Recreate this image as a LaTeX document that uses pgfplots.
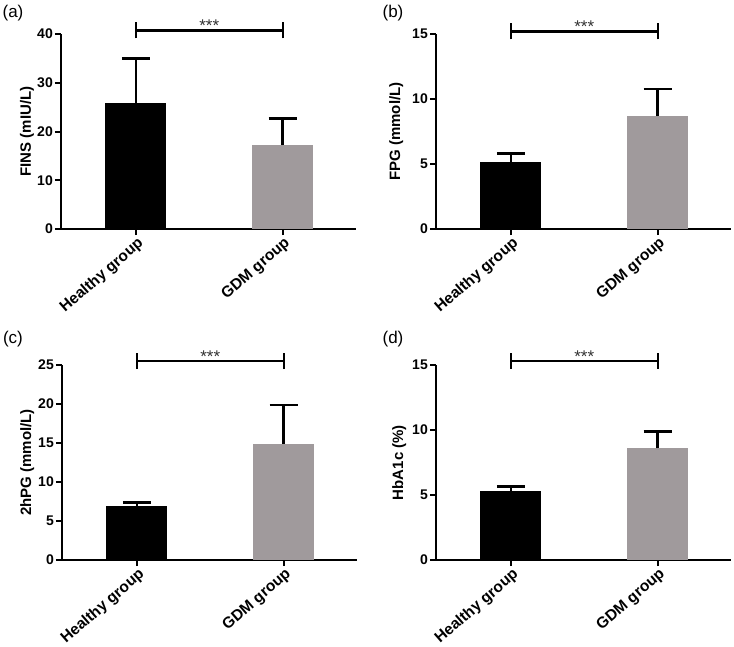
\documentclass[border=0pt]{standalone}
\usepackage{fontspec}
\setmainfont{Liberation Sans}
\usepackage{pgfplots}
\pgfplotsset{compat=1.18}
\definecolor{gdmgray}{RGB}{160,154,156}
\definecolor{stargray}{RGB}{50,50,50}
\tikzset{stars/.style={font=\fontsize{17}{20}\selectfont, text=stargray, anchor=base, yshift=-1.5pt, inner sep=0pt}}
\pgfplotsset{
  gp/.style={
    scale only axis, width=295pt, height=195pt,
    axis x line=bottom, axis y line=left,
    axis line style={-, line width=2pt},
    xmin=-0.51, xmax=1.5, ymin=0,
    xtick={0,1}, xticklabels={Healthy group, GDM group},
    tick style={line width=2pt, black},
    major tick length=6pt,
    tick align=outside,
    x tick label style={rotate=41, anchor=north east, font=\fontsize{15.5}{18}\selectfont\bfseries, inner sep=0pt, xshift=0pt, yshift=-1pt},
    y tick label style={font=\fontsize{14}{17}\selectfont\bfseries, inner sep=2pt},
    /pgf/number format/assume math mode=true,
    ylabel style={font=\fontsize{15}{18}\selectfont\bfseries},
    ybar, bar width=61pt,
    clip=false,
  },
  hbar/.style={fill=black, draw=none, bar shift=0pt,
    error bars/.cd, y dir=plus, y explicit, error mark=|,
    error bar style={line width=2.5pt, black},
    error mark options={line width=2.5pt, mark size=14pt, black}},
  gbar/.style={fill=gdmgray, draw=none, bar shift=0pt,
    error bars/.cd, y dir=plus, y explicit, error mark=|,
    error bar style={line width=2.5pt, black},
    error mark options={line width=2.5pt, mark size=14pt, black}},
}
\begin{document}
\begin{tikzpicture}
\useasboundingbox (0,0) rectangle (734pt,-646pt);
% panel labels
\node[font=\fontsize{17}{20}\selectfont] at (13pt,-13pt) {(a)};
\node[font=\fontsize{17}{20}\selectfont] at (393pt,-13pt) {(b)};
\node[font=\fontsize{17}{20}\selectfont] at (13pt,-339pt) {(c)};
\node[font=\fontsize{17}{20}\selectfont] at (393pt,-339pt) {(d)};

% (a)
\begin{axis}[gp, at={(61pt,-229pt)}, anchor=south west, ymax=40, ytick={0,10,20,30,40},
  ylabel={FINS (mIU/L)}, ylabel style={at={(axis description cs:-0.115,0.5)}, anchor=center}]
\addplot[hbar] coordinates {(0,25.8) +- (0,9.2)};
\addplot[gbar] coordinates {(1,17.2) +- (0,5.5)};
\draw[line width=2.2pt] (axis cs:0,40.74) -- (axis cs:1,40.74);
\draw[line width=2.2pt] (axis cs:0,39.1) -- (axis cs:0,42.38);
\draw[line width=2.2pt] (axis cs:1,39.1) -- (axis cs:1,42.38);
\node[stars] at (axis cs:0.5,40.74) {***};
\end{axis}

% (b)
\begin{axis}[gp, at={(436pt,-229pt)}, anchor=south west, ymax=15, ytick={0,5,10,15},
  ylabel={FPG (mmol/L)}, ylabel style={at={(axis description cs:-0.135,0.5)}, anchor=center}]
\addplot[hbar] coordinates {(0,5.18) +- (0,0.64)};
\addplot[gbar] coordinates {(1,8.69) +- (0,2.08)};
\draw[line width=2.2pt] (axis cs:0,15.2) -- (axis cs:1,15.2);
\draw[line width=2.2pt] (axis cs:0,14.58) -- (axis cs:0,15.82);
\draw[line width=2.2pt] (axis cs:1,14.58) -- (axis cs:1,15.82);
\node[stars] at (axis cs:0.5,15.2) {***};
\end{axis}

% (c)
\begin{axis}[gp, at={(62pt,-560pt)}, anchor=south west, ymax=25, ytick={0,5,10,15,20,25},
  ylabel={2hPG (mmol/L)}, ylabel style={at={(axis description cs:-0.118,0.5)}, anchor=center}]
\addplot[hbar] coordinates {(0,6.9) +- (0,0.45)};
\addplot[gbar] coordinates {(1,14.9) +- (0,5.0)};
\draw[line width=2.2pt] (axis cs:0,25.5) -- (axis cs:1,25.5);
\draw[line width=2.2pt] (axis cs:0,24.47) -- (axis cs:0,26.53);
\draw[line width=2.2pt] (axis cs:1,24.47) -- (axis cs:1,26.53);
\node[stars] at (axis cs:0.5,25.5) {***};
\end{axis}

% (d)
\begin{axis}[gp, at={(436pt,-560pt)}, anchor=south west, ymax=15, ytick={0,5,10,15},
  ylabel={HbA1c (\%)}, ylabel style={at={(axis description cs:-0.125,0.5)}, anchor=center}]
\addplot[hbar] coordinates {(0,5.31) +- (0,0.35)};
\addplot[gbar] coordinates {(1,8.58) +- (0,1.29)};
\draw[line width=2.2pt] (axis cs:0,15.33) -- (axis cs:1,15.33);
\draw[line width=2.2pt] (axis cs:0,14.71) -- (axis cs:0,15.95);
\draw[line width=2.2pt] (axis cs:1,14.71) -- (axis cs:1,15.95);
\node[stars] at (axis cs:0.5,15.33) {***};
\end{axis}
\end{tikzpicture}
\end{document}
